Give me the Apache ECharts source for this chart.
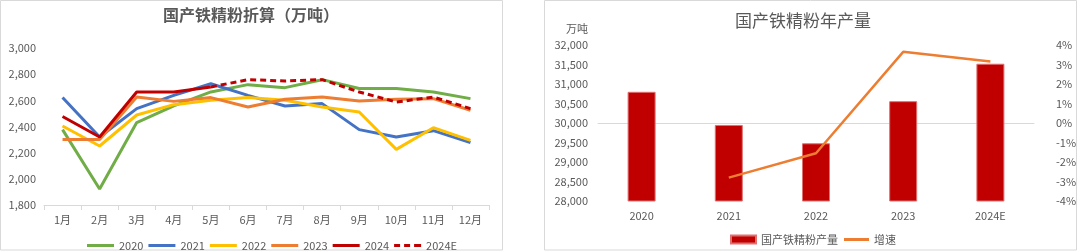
<!DOCTYPE html>
<html>
<head>
<meta charset="utf-8">
<script src="https://cdn.jsdelivr.net/npm/echarts@6/dist/echarts.min.js"></script>
<style>
html,body{margin:0;padding:0;background:#fff;}
#c{width:1080px;height:252px;}
</style>
</head>
<body>
<div id="c"></div>
<script>
// ---- Left chart data ----
const months = ['1月','2月','3月','4月','5月','6月','7月','8月','9月','10月','11月','12月'];
const y2020 = [2376, 1922, 2430, 2557, 2664, 2720, 2697, 2758, 2690, 2690, 2664, 2613];
const y2021 = [2621, 2320, 2537, 2638, 2727, 2638, 2557, 2575, 2376, 2320, 2368, 2277];
const y2022 = [2404, 2251, 2488, 2567, 2600, 2621, 2600, 2549, 2511, 2225, 2391, 2294];
const y2023 = [2300, 2300, 2625, 2592, 2621, 2549, 2608, 2625, 2595, 2608, 2613, 2524];
const y2024 = [2476, 2320, 2664, 2664, 2702, null, null, null, null, null, null, null];
const y2024E = [null, null, null, null, 2702, 2758, 2748, 2758, 2664, 2587, 2625, 2537];
const leftNames = ['2020','2021','2022','2023','2024','2024E'];

// ---- Right chart data ----
const years = ['2020','2021','2022','2023','2024E'];
const output = [30800, 29950, 29480, 30560, 31520];
const growth = [null, -2.8, -1.55, 3.65, 3.15];

const FONT = '"Noto Sans CJK SC", "Noto Sans", sans-serif';
const TXT = '#595959';
const AX = '#d9d9d9';
const SOLID_ICON = 'path://M0,0H27V3H0Z';
const DASH_ICON = 'path://M0,0H6V3H0Z M10,0H16V3H10Z M20,0H27V3H20Z';

const chart = echarts.init(document.getElementById('c'));

function lineSeries(name, data, color, dashed){
  return {
    name: name, type: 'line', xAxisIndex: 0, yAxisIndex: 0,
    data: data, symbol: 'none', smooth: false,
    lineStyle: {color: color, width: 3, type: dashed ? [6, 4] : 'solid', cap: 'butt'},
    itemStyle: {color: color},
    connectNulls: false
  };
}

const option = {
  animation: false,
  textStyle: {fontFamily: FONT},
  graphic: [
    {type: 'rect', shape: {x: 0.5, y: 0.5, width: 502, height: 249.5}, style: {fill: 'none', stroke: AX, lineWidth: 1}, silent: true},
    {type: 'rect', shape: {x: 544.5, y: 0.5, width: 532, height: 249.5}, style: {fill: 'none', stroke: AX, lineWidth: 1}, silent: true},
    {type: 'text', x: 251, y: 15, style: {text: '国产铁精粉折算（万吨）', fill: TXT, font: 'bold 16px ' + FONT, textAlign: 'center', textVerticalAlign: 'middle'}},
    {type: 'text', x: 803, y: 21, style: {text: '国产铁精粉年产量', fill: TXT, font: '17px ' + FONT, textAlign: 'center', textVerticalAlign: 'middle'}},
    {type: 'text', x: 577, y: 29, style: {text: '万吨', fill: TXT, font: '11px ' + FONT, textAlign: 'center', textVerticalAlign: 'middle'}}
  ],
  legend: [
    {
      data: [
        {name: '2020', icon: SOLID_ICON},
        {name: '2021', icon: SOLID_ICON},
        {name: '2022', icon: SOLID_ICON},
        {name: '2023', icon: SOLID_ICON},
        {name: '2024', icon: SOLID_ICON},
        {name: '2024E', icon: DASH_ICON}
      ],
      left: 82, top: 235, itemWidth: 27, itemHeight: 3, itemGap: 5,
      textStyle: {color: TXT, fontSize: 11, fontFamily: FONT}
    },
    {
      data: [
        {name: '国产铁精粉产量', icon: 'rect'},
        {name: '增速', icon: 'path://M0,0H25V3H0Z'}
      ],
      left: 725, top: 229, itemWidth: 25, itemHeight: 8, itemGap: 6,
      textStyle: {color: TXT, fontSize: 11, fontFamily: FONT}
    }
  ],
  grid: [
    {left: 44, top: 48, width: 445, height: 157, containLabel: false},
    {left: 598, top: 45, width: 436, height: 156, containLabel: false}
  ],
  xAxis: [
    {
      gridIndex: 0, type: 'category', data: months, boundaryGap: true,
      axisLine: {lineStyle: {color: AX, width: 1}},
      axisTick: {show: true, length: 5, lineStyle: {color: AX}},
      axisLabel: {color: TXT, fontSize: 11, margin: 9, fontFamily: FONT}
    },
    {
      gridIndex: 1, type: 'category', data: years, boundaryGap: true,
      axisLine: {lineStyle: {color: AX, width: 1}},
      axisTick: {show: false},
      axisLabel: {color: TXT, fontSize: 11, margin: 9, fontFamily: FONT}
    }
  ],
  yAxis: [
    {
      gridIndex: 0, type: 'value', min: 1800, max: 3000, interval: 200,
      axisLine: {show: false}, axisTick: {show: false}, splitLine: {show: false},
      axisLabel: {color: TXT, fontSize: 11, margin: 8, fontFamily: FONT,
        formatter: v => v.toLocaleString('en-US')}
    },
    {
      gridIndex: 1, type: 'value', min: 28000, max: 32000, interval: 500,
      axisLine: {show: false}, axisTick: {show: false}, splitLine: {show: false},
      axisLabel: {color: TXT, fontSize: 11, margin: 10, fontFamily: FONT,
        formatter: v => v.toLocaleString('en-US')}
    },
    {
      gridIndex: 1, type: 'value', position: 'right', min: -4, max: 4, interval: 1,
      axisLine: {show: false}, axisTick: {show: false}, splitLine: {show: false},
      axisLabel: {color: TXT, fontSize: 11, margin: 22, fontFamily: FONT, align: 'left',
        formatter: v => v + '%'}
    }
  ],
  series: [
    lineSeries('2020', y2020, '#70AD47'),
    lineSeries('2021', y2021, '#4472C4'),
    lineSeries('2022', y2022, '#FFC000'),
    lineSeries('2023', y2023, '#ED7D31'),
    lineSeries('2024', y2024, '#C00000'),
    lineSeries('2024E', y2024E, '#C00000', true),
    {
      name: '国产铁精粉产量', type: 'bar', xAxisIndex: 1, yAxisIndex: 1,
      data: output, barWidth: 28,
      itemStyle: {color: '#C00000', borderColor: '#E07070', borderWidth: 1}
    },
    {
      name: '增速', type: 'line', xAxisIndex: 1, yAxisIndex: 2,
      data: growth, symbol: 'none', smooth: false,
      lineStyle: {color: '#ED7D31', width: 2.5},
      itemStyle: {color: '#ED7D31'}
    }
  ]
};
chart.setOption(option);
</script>
</body>
</html>
